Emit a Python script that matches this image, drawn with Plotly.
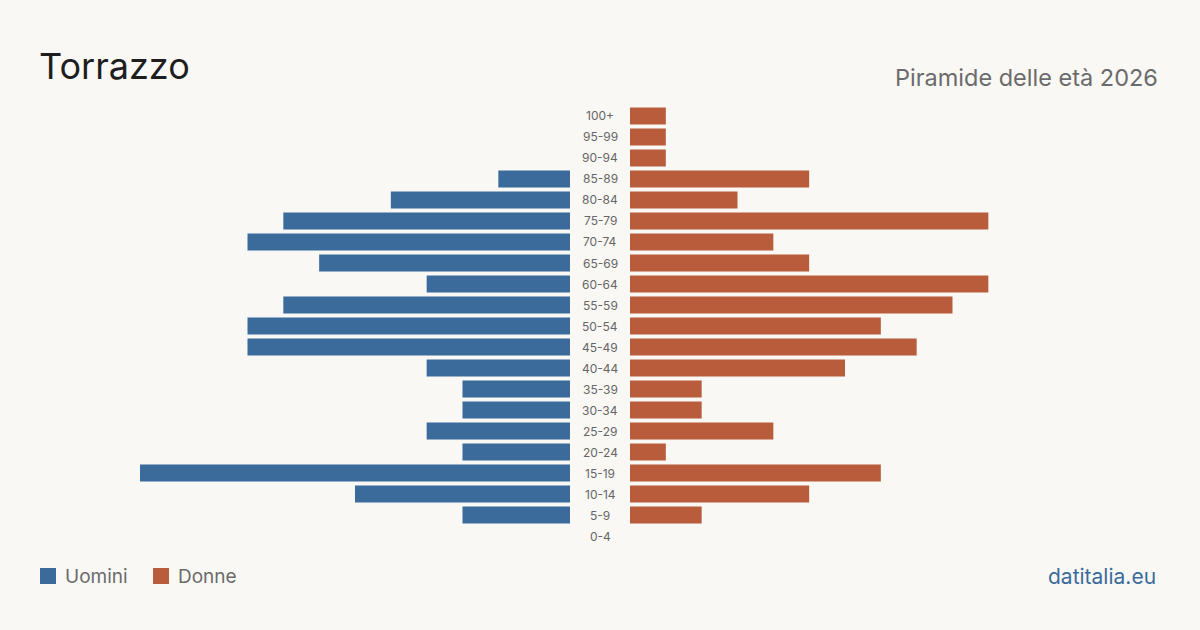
import plotly.graph_objects as go

age_groups = ["0-4", "5-9", "10-14", "15-19", "20-24", "25-29", "30-34", "35-39",
              "40-44", "45-49", "50-54", "55-59", "60-64", "65-69", "70-74",
              "75-79", "80-84", "85-89", "90-94", "95-99", "100+"]
men = [0, 3, 6, 12, 3, 4, 3, 3, 4, 9, 9, 8, 4, 7, 9, 8, 5, 2, 0, 0, 0]
women = [0, 2, 5, 7, 1, 4, 2, 2, 6, 8, 7, 9, 10, 5, 4, 10, 3, 5, 1, 1, 1]

W, H = 1200, 630
BG = "#f9f8f4"
BLUE = "#3b6b9b"
ORANGE = "#b95c3c"
FONT = "Inter, Roboto, sans-serif"

xmax = max(max(men), max(women))

fig = go.Figure()
fig.add_trace(go.Bar(y=age_groups, x=men, orientation="h", marker_color=BLUE,
                     marker_line_width=0,
                     xaxis="x", yaxis="y", width=0.81, showlegend=False,
                     hoverinfo="x+y"))
fig.add_trace(go.Bar(y=age_groups, x=women, orientation="h", marker_color=ORANGE,
                     marker_line_width=0,
                     xaxis="x2", yaxis="y", width=0.81, showlegend=False,
                     hoverinfo="x+y"))

annotations = []
for g in age_groups:
    annotations.append(dict(x=600 / W, xref="paper", y=g, yref="y", text=g,
                            showarrow=False, xanchor="center", yanchor="middle",
                            font=dict(family=FONT, size=12, color="#666666")))

annotations += [
    dict(x=37 / W, y=1 - 66 / H, xref="paper", yref="paper", text="Torrazzo",
         showarrow=False, xanchor="left", yanchor="middle",
         font=dict(family=FONT, size=36, color="#1e1e1e")),
    dict(x=1160 / W, y=1 - 77 / H, xref="paper", yref="paper",
         text="Piramide delle età 2026", showarrow=False, xanchor="right",
         yanchor="middle", font=dict(family=FONT, size=23.5, color="#6b6b6b")),
    dict(x=63 / W, y=1 - 576 / H, xref="paper", yref="paper", text="Uomini",
         showarrow=False, xanchor="left", yanchor="middle",
         font=dict(family=FONT, size=19, color="#6b6b6b")),
    dict(x=176 / W, y=1 - 576 / H, xref="paper", yref="paper", text="Donne",
         showarrow=False, xanchor="left", yanchor="middle",
         font=dict(family=FONT, size=19, color="#6b6b6b")),
    dict(x=1158 / W, y=1 - 576 / H, xref="paper", yref="paper", text="datitalia.eu",
         showarrow=False, xanchor="right", yanchor="middle",
         font=dict(family=FONT, size=21, color="#3b6b9b")),
]

shapes = [
    dict(type="rect", xref="paper", yref="paper", x0=40 / W, x1=56 / W,
         y0=1 - 584 / H, y1=1 - 568 / H, fillcolor=BLUE, line_width=0),
    dict(type="rect", xref="paper", yref="paper", x0=153 / W, x1=169 / W,
         y0=1 - 584 / H, y1=1 - 568 / H, fillcolor=ORANGE, line_width=0),
]

top_px, bot_px = 105.5, 546.5
fig.update_layout(
    width=W, height=H,
    margin=dict(l=0, r=0, t=0, b=0),
    paper_bgcolor=BG, plot_bgcolor=BG,
    barmode="overlay",
    xaxis=dict(domain=[140 / W, 570 / W], range=[xmax, 0], visible=False,
               fixedrange=True),
    xaxis2=dict(domain=[630 / W, 1060 / W], range=[0, xmax], visible=False,
                fixedrange=True),
    yaxis=dict(domain=[1 - bot_px / H, 1 - top_px / H], visible=False,
               categoryorder="array", categoryarray=age_groups,
               range=[-0.5, len(age_groups) - 0.5], fixedrange=True),
    annotations=annotations,
    shapes=shapes,
)

fig.write_html("out.html")
